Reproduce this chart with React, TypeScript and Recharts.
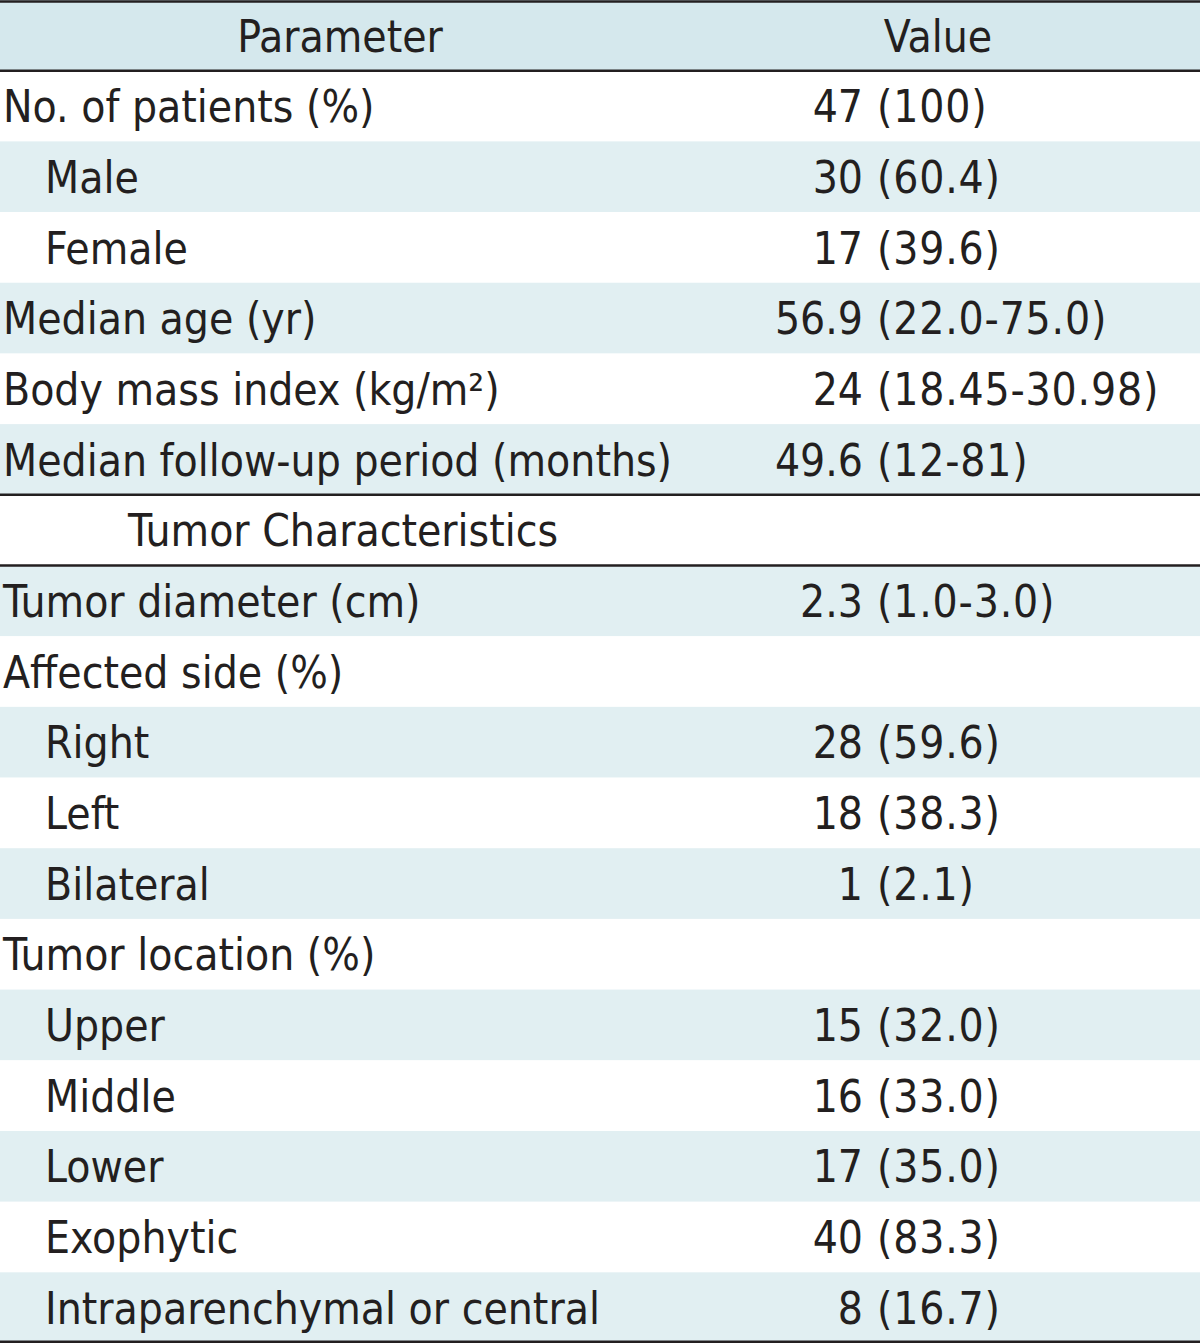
import { BarChart, Bar, XAxis, YAxis } from "recharts";

const headers = ["Parameter", "Value"];

const parameters = [
  "No. of patients (%)",
  "Male",
  "Female",
  "Median age (yr)",
  "Body mass index (kg/m²)",
  "Median follow-up period (months)",
  "Tumor Characteristics",
  "Tumor diameter (cm)",
  "Affected side (%)",
  "Right",
  "Left",
  "Bilateral",
  "Tumor location (%)",
  "Upper",
  "Middle",
  "Lower",
  "Exophytic",
  "Intraparenchymal or central",
];

const counts = ["47", "30", "17", "56.9", "24", "49.6", "", "2.3", "", "28", "18", "1", "", "15", "16", "17", "40", "8"];

const ranges = [
  "(100)",
  "(60.4)",
  "(39.6)",
  "(22.0-75.0)",
  "(18.45-30.98)",
  "(12-81)",
  "",
  "(1.0-3.0)",
  "",
  "(59.6)",
  "(38.3)",
  "(2.1)",
  "",
  "(32.0)",
  "(33.0)",
  "(35.0)",
  "(83.3)",
  "(16.7)",
];

const subItems = ["Male", "Female", "Right", "Left", "Bilateral", "Upper", "Middle", "Lower", "Exophytic", "Intraparenchymal or central"];
const sectionTitles = ["Tumor Characteristics"];

const WIDTH = 1200;
const HEIGHT = 1343;
const FONT = "'DejaVu Sans Condensed', 'DejaVu Sans', sans-serif";
const INK = "#231f20";
const HEADER_FILL = "#d5e8ed";
const STRIPE_FILL = "#e1eff2";

const rows = [
  { key: "header", label: headers[0], count: headers[1], range: "", band: 1 },
  ...parameters.map((p, i) => ({ key: p, label: p, count: counts[i], range: ranges[i], band: 1 })),
];

function RowShape(props: any) {
  const { y, height, index, payload } = props;
  const isHeader = index === 0;
  const isSection = sectionTitles.includes(payload.label);
  const isSub = subItems.includes(payload.label);
  const fill = isHeader ? HEADER_FILL : index % 2 === 0 ? STRIPE_FILL : "#ffffff";
  const base = y + height / 2 + 16;
  const ruleAbove = isHeader || index === 1 || isSection || (index > 0 && sectionTitles.includes(rows[index - 1].label));
  const isLast = index === rows.length - 1;

  let labelX = 3;
  if (isSub) labelX = 45;
  if (isSection) labelX = 128;

  return (
    <g>
      <rect x={0} y={y} width={WIDTH} height={height} fill={fill} />
      {isHeader ? (
        <>
          <text x={340} y={base} textAnchor="middle" fontFamily={FONT} fontSize={44} fill={INK}>
            {payload.label}
          </text>
          <text x={938} y={base} textAnchor="middle" fontFamily={FONT} fontSize={44} fill={INK}>
            {payload.count}
          </text>
        </>
      ) : (
        <>
          <text x={labelX} y={base} fontFamily={FONT} fontSize={44} fill={INK}>
            {payload.label}
          </text>
          <text x={863} y={base} textAnchor="end" fontFamily={FONT} fontSize={44} fill={INK}>
            {payload.count}
          </text>
          <text x={877} y={base} fontFamily={FONT} fontSize={44} letterSpacing={0.8} fill={INK}>
            {payload.range}
          </text>
        </>
      )}
      {ruleAbove && <line x1={0} x2={WIDTH} y1={isHeader ? y + 1.5 : y} y2={isHeader ? y + 1.5 : y} stroke={INK} strokeWidth={2.5} />}
      {isLast && <line x1={0} x2={WIDTH} y1={y + height - 1.5} y2={y + height - 1.5} stroke={INK} strokeWidth={2.5} />}
    </g>
  );
}

export default function App() {
  return (
    <div style={{ width: WIDTH, height: HEIGHT, background: "#ffffff" }}>
      <style>{`body{margin:0}`}</style>
      <BarChart
        width={WIDTH}
        height={HEIGHT}
        data={rows}
        layout="vertical"
        margin={{ top: 0, right: 0, bottom: 0, left: 0 }}
        barCategoryGap={0}
      >
        <XAxis type="number" domain={[0, 1]} hide />
        <YAxis type="category" dataKey="key" hide />
        <Bar dataKey="band" shape={RowShape} isAnimationActive={false} />
      </BarChart>
    </div>
  );
}
